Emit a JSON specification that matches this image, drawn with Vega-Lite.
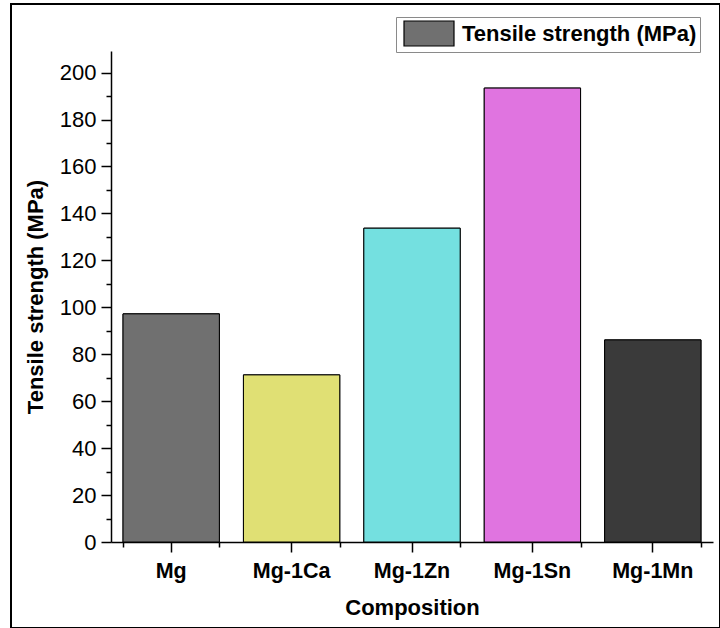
{
  "$schema": "https://vega.github.io/schema/vega-lite/v6.json",
  "width": 709,
  "height": 624,
  "autosize": {"type": "none"},
  "padding": {"left": 11, "top": 4, "right": 0, "bottom": 0},
  "background": "white",
  "config": {
    "view": {"stroke": "black", "strokeWidth": 2},
    "font": "Liberation Sans",
    "axis": {"grid": false, "domainColor": "black", "tickColor": "black", "labelColor": "black", "titleColor": "black", "labelFont": "Liberation Sans", "titleFont": "Liberation Sans"}
  },
  "data": {
    "values": [
      {"composition": "Mg", "strength": 97.2, "series": "Tensile strength (MPa)"},
      {"composition": "Mg-1Ca", "strength": 71.2, "series": "Tensile strength (MPa)"},
      {"composition": "Mg-1Zn", "strength": 133.7, "series": "Tensile strength (MPa)"},
      {"composition": "Mg-1Sn", "strength": 193.4, "series": "Tensile strength (MPa)"},
      {"composition": "Mg-1Mn", "strength": 86.1, "series": "Tensile strength (MPa)"}
    ]
  },
  "layer": [
    {
      "mark": {"type": "bar", "stroke": "black", "strokeWidth": 1},
      "encoding": {
        "x": {
          "field": "composition", "type": "nominal", "sort": null,
          "scale": {"range": [100, 702], "paddingInner": 0.2, "paddingOuter": 0.1},
          "axis": {"orient": "bottom", "offset": -86, "tickBand": "extent", "tickSize": 5, "tickWidth": 1.5, "labels": false, "domain": false, "title": null}
        },
        "y": {
          "field": "strength", "type": "quantitative",
          "scale": {"domain": [0, 209.2], "range": [538, 47], "nice": false, "zero": true},
          "axis": {"orient": "left", "offset": -100, "values": [10, 30, 50, 70, 90, 110, 130, 150, 170, 190], "tickSize": 5, "tickWidth": 1.5, "labels": false, "domain": false, "title": null}
        },
        "color": {
          "field": "series", "type": "nominal",
          "scale": {"range": ["#707070"]},
          "legend": {
            "orient": "none", "legendX": 385, "legendY": 13, "title": null,
            "padding": 3, "strokeColor": "#8a8a8a", "fillColor": "white",
            "labelFont": "Liberation Sans", "labelFontSize": 22, "labelFontWeight": "bold", "labelColor": "black",
            "labelLimit": 400,
            "labelOffset": 36, "symbolType": "M-0.68,-1H3.32V1H-0.68Z", "symbolSize": 625,
            "symbolStrokeColor": "black", "symbolStrokeWidth": 1.2
          }
        }
      }
    },
    {
      "mark": {"type": "bar", "stroke": "black", "strokeWidth": 1},
      "encoding": {
        "x": {
          "field": "composition", "type": "nominal", "sort": null,
          "axis": {"orient": "bottom", "offset": -86, "tickSize": 10, "tickWidth": 1.5, "domainWidth": 1.5, "labelAngle": 0, "labelFontSize": 21.5, "labelFontWeight": "bold", "labelPadding": 8, "title": "Composition", "titleFontSize": 22, "titleFontWeight": "bold", "titlePadding": 16}
        },
        "y": {
          "field": "strength", "type": "quantitative",
          "axis": {"orient": "left", "offset": -100, "values": [0, 20, 40, 60, 80, 100, 120, 140, 160, 180, 200], "tickSize": 10, "tickWidth": 1.5, "domainWidth": 1.5, "labelFontSize": 22, "labelPadding": 5, "title": "Tensile strength (MPa)", "titleFontSize": 22, "titleFontWeight": "bold", "titlePadding": 12}
        },
        "fill": {
          "field": "composition", "type": "nominal", "sort": null,
          "scale": {"domain": ["Mg", "Mg-1Ca", "Mg-1Zn", "Mg-1Sn", "Mg-1Mn"], "range": ["#707070", "#e0e074", "#74e0e0", "#e074e0", "#3a3a3a"]},
          "legend": null
        }
      }
    }
  ],
  "resolve": {"axis": {"x": "independent", "y": "independent"}}
}
